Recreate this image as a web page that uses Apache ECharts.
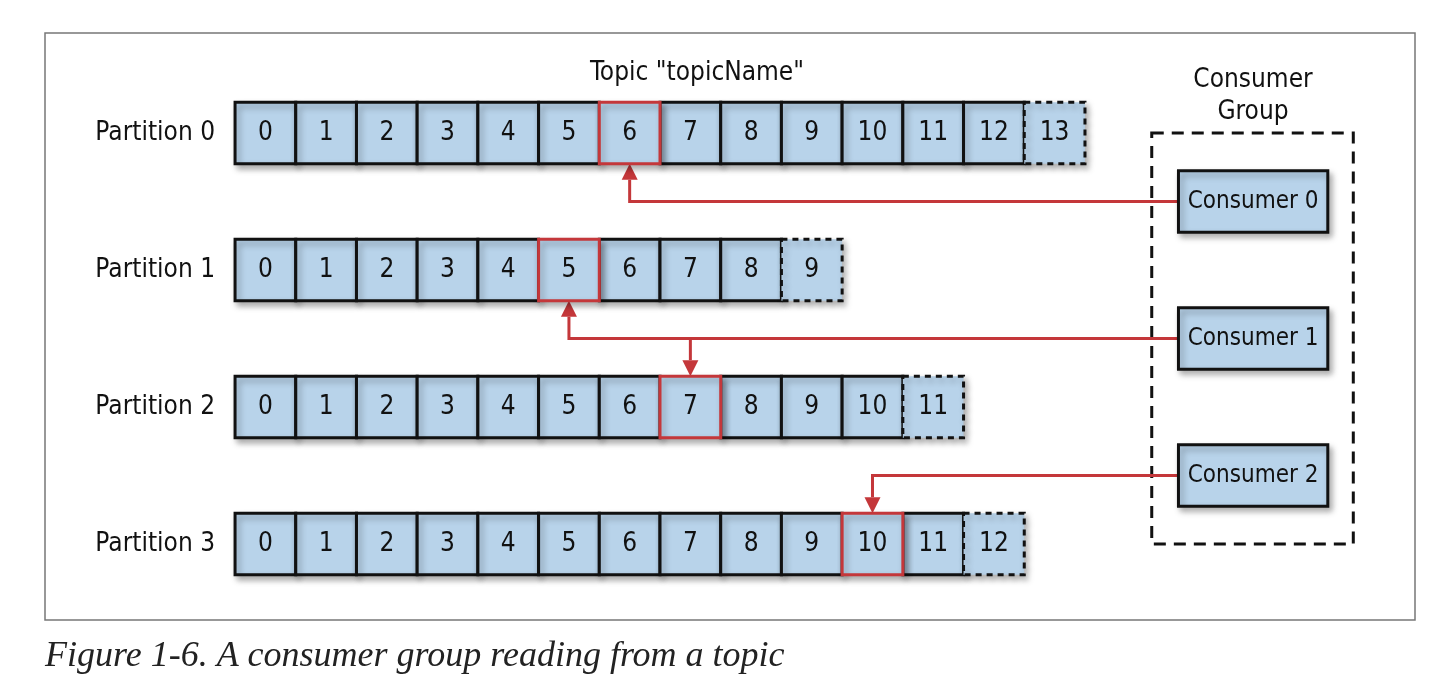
<!DOCTYPE html>
<html><head><meta charset="utf-8">
<script src="https://cdn.jsdelivr.net/npm/echarts@6/dist/echarts.min.js"></script>
<style>html,body{margin:0;background:#fff}#c{width:1448px;height:698px}</style>
</head><body><div id="c"></div>
<script>
// partitions: number of messages (last one is being written -> dashed)
var partitionNames = ['Partition 0', 'Partition 1', 'Partition 2', 'Partition 3'];
var partitionLengths = [14, 10, 12, 13];
// offset read by consumer in each partition
var readOffsets = [6, 5, 7, 10];
var consumerNames = ['Consumer 0', 'Consumer 1', 'Consumer 2'];
var consumerRows = [0.5, 1.5, 2.5];
// which partitions each consumer reads
var assignments = [[0], [1, 2], [3]];

var FONT = '"DejaVu Sans Condensed", "Liberation Sans Narrow", sans-serif';
var BLUE = '#b8d3ea', RED = '#c4373a';
var CELL_H = 0.45, CONS_X0 = 15.54, CONS_X1 = 18.0;

var cells = [];
for (var p = 0; p < partitionLengths.length; p++) {
	for (var i = 0; i < partitionLengths[p]; i++) {
		var last = i == partitionLengths[p] - 1 ? 1 : 0;
		var read = i == readOffsets[p] ? 1 : 0;
		cells.push([i, p, last, read]);
	}
}
// red cells drawn last so their border stays on top
cells.sort(function (a, b) { return a[3] - b[3]; });

// arrows: [startX, y, targetX, targetY]
var arrows = [];
for (var c = 0; c < assignments.length; c++) {
	var parts = assignments[c];
	for (var k = 0; k < parts.length; k++) {
		var pp = parts[k];
		var tx = readOffsets[pp] + 0.5;
		var ty = pp < consumerRows[c] ? pp + CELL_H / 2 : pp - CELL_H / 2;
		arrows.push([k == 0 ? CONS_X0 : tx, consumerRows[c], tx, ty]);
	}
}

var chart = echarts.init(document.getElementById('c'));
option = {
	animation: false,
	graphic: [
		{type: 'rect', shape: {x: 45, y: 33, width: 1370, height: 587}, style: {fill: 'none', stroke: '#777', lineWidth: 1.5}},
		{type: 'text', x: 697, y: 73, style: {text: 'Topic "topicName"', font: '26px ' + FONT, fill: '#111', align: 'center', verticalAlign: 'middle'}},
		{type: 'text', x: 1253, y: 96, style: {text: 'Consumer\nGroup', font: '26px ' + FONT, lineHeight: 32, fill: '#111', align: 'center', verticalAlign: 'middle'}},
		{type: 'text', x: 45, y: 657, style: {text: 'Figure 1-6. A consumer group reading from a topic', font: 'italic 36px "Liberation Serif", serif', fill: '#222', verticalAlign: 'middle'}}
	],
	grid: {left: 0, right: 0, top: 0, bottom: 0},
	xAxis: {type: 'value', min: -3.872, max: 19.98, show: false},
	yAxis: {type: 'value', min: -0.971, max: 4.124, inverse: true, show: false},
	series: [
		{
			type: 'custom', data: [[15.1, 0, 18.42, 3.0]],
			renderItem: function (params, api) {
				var a = api.coord([api.value(0), api.value(1)]);
				var b = api.coord([api.value(2), api.value(3)]);
				return {type: 'rect', shape: {x: a[0], y: a[1], width: b[0] - a[0], height: b[1] - a[1]},
					style: {fill: 'none', stroke: '#111', lineWidth: 3, lineDash: [12, 8]}};
			}
		},
		{
			type: 'custom', data: partitionNames.map(function (n, i) { return [i, n]; }),
			renderItem: function (params, api) {
				var pt = api.coord([-0.33, api.value(0)]);
				return {type: 'text', x: pt[0], y: pt[1], style: {text: partitionNames[params.dataIndex], font: '26px ' + FONT, fill: '#111', align: 'right', verticalAlign: 'middle'}};
			}
		},
		{
			type: 'custom', z: 3, data: arrows,
			renderItem: function (params, api) {
				var s = api.coord([api.value(0), api.value(1)]);
				var m = api.coord([api.value(2), api.value(1)]);
				var t = api.coord([api.value(2), api.value(3)]);
				var dir = t[1] < m[1] ? 1 : -1; // 1: arrow points up
				var baseY = t[1] + dir * 16;
				return {type: 'group', children: [
					{type: 'polyline', shape: {points: [s, m, [t[0], baseY]]}, style: {fill: 'none', stroke: RED, lineWidth: 3}},
					{type: 'polygon', shape: {points: [[t[0], t[1]], [t[0] - 8, baseY], [t[0] + 8, baseY]]}, style: {fill: RED}}
				]};
			}
		},
		{
			type: 'custom', z: 4, data: cells,
			renderItem: function (params, api) {
				var x = api.value(0), y = api.value(1), last = api.value(2), read = api.value(3);
				var a = api.coord([x, y - CELL_H / 2]);
				var b = api.coord([x + 1, y + CELL_H / 2]);
				return {type: 'group', children: [
					{type: 'rect', shape: {x: a[0], y: a[1], width: b[0] - a[0], height: b[1] - a[1]},
						style: {fill: BLUE, stroke: read ? RED : '#111', lineWidth: 3, lineDash: last ? [6, 5] : null,
							shadowBlur: 6, shadowOffsetX: 3, shadowOffsetY: 4, shadowColor: 'rgba(0,0,0,0.3)'}},
					{type: 'text', x: (a[0] + b[0]) / 2, y: (a[1] + b[1]) / 2,
						style: {text: String(x), font: '26px ' + FONT, fill: '#111', align: 'center', verticalAlign: 'middle'}}
				]};
			}
		},
		{
			type: 'custom', z: 4, data: consumerRows.map(function (r, i) { return [r, consumerNames[i]]; }),
			renderItem: function (params, api) {
				var r = api.value(0);
				var a = api.coord([CONS_X0, r - CELL_H / 2]);
				var b = api.coord([CONS_X1, r + CELL_H / 2]);
				return {type: 'group', children: [
					{type: 'rect', shape: {x: a[0], y: a[1], width: b[0] - a[0], height: b[1] - a[1]},
						style: {fill: BLUE, stroke: '#111', lineWidth: 3,
							shadowBlur: 6, shadowOffsetX: 3, shadowOffsetY: 4, shadowColor: 'rgba(0,0,0,0.3)'}},
					{type: 'text', x: (a[0] + b[0]) / 2, y: (a[1] + b[1]) / 2,
						style: {text: consumerNames[params.dataIndex], font: '24px ' + FONT, fill: '#111', align: 'center', verticalAlign: 'middle'}}
				]};
			}
		}
	]
};
chart.setOption(option);
</script>
</body></html>
